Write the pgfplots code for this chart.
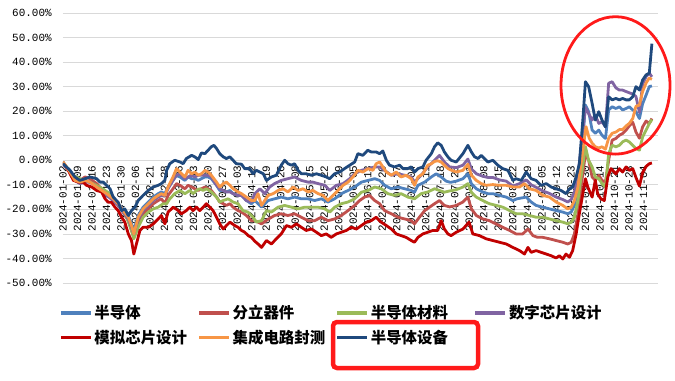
\documentclass[border=0pt]{standalone}
\usepackage{fontspec}
\usepackage{pgfplots}
\pgfplotsset{compat=1.18}
\setmainfont{Liberation Sans}
\newfontfamily\tickfont{Liberation Mono}
\newfontfamily\cjk{Noto Sans CJK SC}
\definecolor{cA}{HTML}{4F81BD}
\definecolor{cB}{HTML}{C0504D}
\definecolor{cC}{HTML}{9BBB59}
\definecolor{cD}{HTML}{8064A2}
\definecolor{cE}{HTML}{C00000}
\definecolor{cF}{HTML}{F79646}
\definecolor{cG}{HTML}{1F497D}
\definecolor{gridc}{HTML}{D9D9D9}
\definecolor{annot}{HTML}{FF1A1A}
\begin{document}
\begin{tikzpicture}
\path[use as bounding box] (-63bp,-98bp) rectangle (612bp,283bp);
\begin{axis}[
  at={(0bp,0bp)}, anchor=south west,
  width=595bp, height=270bp, scale only axis,
  xmin=0, xmax=205, ymin=-50, ymax=60,
  axis x line=middle, axis y line=left,
  axis line style={-},
  x axis line style={draw=gridc, line width=0.75bp},
  y axis line style={draw=none},
  hide obscured x ticks=false, hide obscured y ticks=false,
  tick style={draw=none},
  ytick={-50,-40,-30,-20,-10,0,10,20,30,40,50,60},
  yticklabels={-50.00\%,-40.00\%,-30.00\%,-20.00\%,-10.00\%,0.00\%,10.00\%,20.00\%,30.00\%,40.00\%,50.00\%,60.00\%},
  ymajorgrids, grid style={draw=gridc, line width=0.75bp},
  xtick={0,5,...,200},
  xticklabels={2024-01-02,2024-01-09,2024-01-16,2024-01-23,2024-01-30,2024-02-06,2024-02-21,2024-02-28,2024-03-06,2024-03-13,2024-03-20,2024-03-27,2024-04-03,2024-04-12,2024-04-19,2024-04-26,2024-05-08,2024-05-15,2024-05-22,2024-05-29,2024-06-05,2024-06-13,2024-06-20,2024-06-27,2024-07-04,2024-07-11,2024-07-18,2024-07-25,2024-08-01,2024-08-08,2024-08-15,2024-08-22,2024-08-29,2024-09-05,2024-09-12,2024-09-23,2024-09-30,2024-10-14,2024-10-21,2024-10-28,2024-11-04},
  xticklabel style={font=\tickfont\fontsize{11}{12}\selectfont, rotate=90, anchor=east, inner xsep=3bp, inner ysep=0pt},
  yticklabel style={font=\tickfont\fontsize{11}{13}\selectfont, anchor=east, inner sep=0pt, xshift=-9bp},
  legend columns=4,
  legend style={draw=none, fill=none, inner sep=0pt, at={(axis description cs:-0.0066,-0.075)}, anchor=north west, font=\cjk\bfseries\fontsize{15.5}{18}\selectfont, row sep=6bp, /tikz/every even column/.append style={column sep=0pt}},
  legend image code/.code={\draw[#1, line width=3.2bp] (0bp,0bp) -- (30bp,0bp);},
  every axis plot/.append style={line width=2.8bp, line join=round, mark=none},
]
\addplot[cA] coordinates {(0,-1.4)(2.4,-4.1)(4.1,-7.5)(5.8,-8.9)(7.6,-8.2)(9.3,-8.9)(11.6,-10.2)(13.3,-12.3)(15,-13.6)(17.3,-15)(19,-17.7)(20.7,-19.8)(22.5,-22.5)(23.6,-25.9)(24.4,-28.6)(25.9,-22.5)(27.6,-19.1)(29.4,-17)(31.1,-15)(32.8,-13.6)(33.9,-12.9)(35.1,-13.6)(36.2,-10.9)(37.9,-8.2)(39.1,-6.1)(40.3,-6.8)(42,-8.2)(43.1,-6.8)(44.3,-7.5)(45.4,-7.5)(46.6,-8.2)(47.7,-7.5)(48.9,-6.8)(50,-6.8)(51.1,-7.5)(52.9,-10.2)(54,-12.3)(55.2,-12.3)(56.3,-12.9)(57.5,-12.3)(58.6,-13.6)(60.3,-14.3)(61.5,-14.3)(63.2,-16.4)(64.9,-17.7)(66.1,-16.4)(68.4,-19.1)(70.7,-16.4)(72.9,-15.7)(75.2,-15)(77.5,-15.7)(79.8,-15)(82.1,-15.7)(84.4,-15.7)(86.7,-16.4)(89,-15.7)(91.3,-17)(93.6,-15.7)(95.9,-13.6)(98.2,-12.3)(100.5,-10.9)(102.8,-8.9)(105.1,-8.2)(107.4,-7.5)(109.1,-8.2)(110.8,-10.2)(113.1,-11.6)(115.4,-10.9)(117.7,-11.6)(120,-12.3)(121.1,-13)(122.3,-10.2)(124.6,-8.9)(126.9,-6.8)(128.6,-5.5)(130.3,-6.8)(132,-8.5)(133.5,-9)(135.5,-8.5)(137.8,-7.5)(139.5,-5.5)(140.7,-9.5)(142.4,-11.6)(144.6,-12.9)(146.4,-13.6)(148.1,-13.6)(150.4,-14.3)(152.7,-15)(155,-16.4)(156.4,-15.7)(159.6,-15)(161.3,-17)(163,-18.4)(165.3,-19.1)(167.6,-19.8)(169.9,-20.5)(172.2,-21.1)(173.9,-21.8)(175.1,-21.1)(176.2,-18.4)(177.4,-10.9)(178.5,-0.2)(180,22.5)(181.1,19.8)(182.3,12.3)(183.4,11)(184.6,12.3)(185.7,10.2)(186.9,8.9)(188,20.5)(189.2,21.8)(190.5,21.1)(191.7,21.8)(192.8,20.5)(194,21.1)(195.1,21.8)(196.3,20.5)(197.4,19.8)(198.6,17)(199.7,23)(200.9,26.6)(202,30)(202.9,30.3)};
\addlegendentry{\makebox[101bp][l]{半导体}}
\addplot[cB] coordinates {(0,-1.4)(2.4,-4.8)(4.1,-7.5)(5.8,-8.2)(7.6,-6.8)(9.3,-7.5)(11.6,-9.5)(13.3,-11.6)(15,-13.6)(17.3,-15.7)(19,-17.7)(20.7,-21.1)(22.5,-24.6)(23.6,-28.6)(24.4,-31.4)(25.9,-25.9)(27.6,-21.8)(29.4,-19.8)(31.1,-17.7)(32.8,-16.4)(33.9,-15.7)(35.1,-17.7)(36.2,-14.3)(37.9,-11.6)(39.1,-9.5)(40.3,-10.2)(42,-11.6)(43.1,-10.2)(44.3,-10.9)(45.4,-11.6)(46.6,-12.3)(47.7,-11.6)(48.9,-10.9)(50,-11.6)(51.1,-12.3)(52.9,-15)(54,-17)(55.2,-17.7)(56.3,-18.4)(57.5,-17.7)(58.6,-19.1)(60.3,-20.5)(61.5,-21.1)(63.2,-22.5)(64.9,-24.6)(66.1,-24.6)(68.4,-25.9)(70.7,-24)(72.9,-22.5)(75.2,-21.8)(77.5,-22.5)(79.8,-21.8)(82.1,-23.2)(84.4,-24.6)(86.7,-24.6)(89,-23.2)(91.3,-24.6)(93.6,-23.9)(95.9,-22.5)(98.2,-20.5)(100.5,-18.4)(102.2,-16.4)(103.9,-15)(105.6,-14.3)(107.4,-16.4)(109.1,-17.7)(110.8,-20.5)(113.1,-21.8)(115.4,-23.2)(117.7,-23.9)(120,-24.6)(121.1,-25.9)(122.8,-23.2)(124.6,-20.5)(126.3,-19.1)(128,-17.7)(129.7,-16.4)(131.4,-18.4)(133.2,-19)(135.5,-18.4)(137.8,-17)(139.5,-15)(140.7,-19.8)(142.4,-22.5)(144.6,-23.9)(146.9,-24.6)(149.3,-26)(151.5,-27.3)(153.9,-28.6)(156.1,-30)(158.4,-30)(160.2,-28)(161.9,-30.7)(163.5,-31.4)(165.3,-31.4)(167.6,-32)(169.9,-32.7)(172.2,-33.4)(173.9,-34.1)(175.1,-33.4)(176.2,-30)(177.4,-21.8)(178.5,-10.9)(180,2.7)(181.1,0)(182.3,-6.8)(183.4,-8.2)(184.6,-6.1)(185.7,-8.2)(186.9,-8.9)(188,0)(189.2,8.2)(190.5,8.9)(191.7,10.2)(192.8,10.9)(194,12.3)(195.1,14)(196.3,15.5)(197.4,11.5)(198.6,9)(199.7,13.6)(200.9,16)(202,15)(202.9,17)};
\addlegendentry{\makebox[101bp][l]{分立器件}}
\addplot[cC] coordinates {(0,-0.7)(3.4,-6.1)(5.8,-7.5)(9.3,-8.9)(12.7,-10.9)(16.2,-13.6)(19,-17.7)(21.9,-23.2)(23.6,-28.6)(24.4,-32)(25.9,-27.3)(27.6,-23.2)(29.4,-21.1)(31.1,-19.8)(32.8,-19.1)(34.5,-17.7)(35.7,-17.7)(36.8,-15.7)(38.5,-13.6)(40.3,-12.3)(42,-13.6)(43.7,-12.3)(44.8,-13.6)(46,-12.3)(47.1,-11.6)(48.3,-12.3)(49.4,-11.6)(51.1,-12.9)(52.9,-15)(54,-17)(55.2,-16.4)(56.9,-15.7)(58.6,-17)(60.3,-17.7)(62,-20.5)(63.7,-21.1)(65.5,-23.2)(66.6,-25.2)(68.4,-24.6)(70.1,-20.5)(71.8,-21.1)(74.1,-19.1)(76.4,-18.4)(78.7,-19.1)(81,-19.8)(83.3,-19.1)(85.6,-19.1)(87.9,-19.1)(90.2,-19.8)(91.9,-21.1)(93.6,-19.1)(95.9,-17.7)(98.2,-17)(100.5,-15.7)(102.8,-13)(105.1,-12.3)(107.4,-10.9)(109.7,-11.6)(111.9,-13.6)(114.2,-14.3)(116.5,-13.6)(118.8,-15)(121.1,-15.7)(123.4,-13.6)(125.7,-12.9)(128,-11.6)(129.7,-12.3)(131.4,-13)(133.2,-12.5)(135.5,-12)(137.8,-10.9)(139.5,-9.5)(140.7,-13)(142.4,-15)(144.6,-16.4)(146.9,-17.7)(149.3,-18.4)(151.5,-19.1)(153.9,-20.5)(156.1,-21.8)(158.4,-21.8)(160.7,-22.5)(163,-23.2)(165.3,-23.2)(167.6,-23.9)(169.9,-24.6)(172.2,-25.2)(173.9,-25.9)(175.1,-25.2)(176.2,-23.2)(177.4,-16.4)(178.5,-6.8)(180,5.5)(181.1,0)(182.3,-2.7)(183.4,-6.8)(184.6,-7.5)(185.7,-9.5)(186.9,-10.9)(188,2.7)(189.2,6.1)(190.5,5.5)(191.7,6.1)(192.8,7.5)(194,8.2)(195.1,7.5)(196.3,6.1)(197.4,4.8)(198.6,4.1)(199.7,9.5)(200.9,12.3)(202,15)(202.9,16.6)};
\addlegendentry{\makebox[101bp][l]{半导体材料}}
\addplot[cD] coordinates {(0,-1.4)(2.4,-4.8)(4.1,-8.2)(5.8,-9.5)(7.6,-8.9)(9.3,-8.9)(11.6,-10.9)(13.3,-12.3)(15,-14.3)(17.3,-16.4)(19,-18.4)(20.7,-21.1)(22.5,-23.9)(23.6,-27.3)(24.4,-30)(25.9,-23.9)(27.6,-20.5)(29.4,-18.4)(31.1,-16.4)(32.8,-15)(33.9,-14.3)(35.1,-14.3)(36.2,-11.6)(37.9,-8.2)(39.1,-6.1)(40.3,-5.5)(42,-7.5)(43.1,-6.8)(44.3,-6.1)(45.4,-6.8)(46.6,-6.1)(47.7,-6.1)(48.9,-6.1)(50,-6.1)(51.1,-6.8)(52.9,-10.2)(54,-11.6)(55.2,-12.3)(56.3,-12.9)(57.5,-12.9)(58.6,-13.6)(60.3,-14.3)(61.5,-14.3)(63.2,-16.4)(64.9,-17)(66.1,-13.6)(67.8,-11.6)(69.5,-13.6)(71.2,-10.9)(72.9,-9.5)(75.2,-8.2)(77.5,-7.5)(79.8,-6.8)(82.1,-8.2)(84.4,-8.9)(86.1,-8.9)(87.9,-9.5)(90.2,-10.2)(91.9,-12.3)(94.2,-10.2)(96.5,-9.5)(98.8,-7.5)(100.5,-5.5)(102.8,-4.1)(105.1,-3.4)(107.4,-2.7)(109.1,-2.7)(110.8,-4.1)(113.1,-6.1)(115.4,-5.5)(117.7,-6.1)(120,-6.8)(121.1,-8.9)(123.4,-6.1)(125.7,-2.7)(128,0)(129.7,2)(131.4,-0.7)(133.2,-2.7)(135.5,-3)(137.8,-2)(139.5,0.5)(140.7,-3.5)(142.4,-5.5)(144.6,-6.5)(146.4,-7)(148.1,-7)(150.4,-8)(152.7,-8.5)(155,-10.5)(157.3,-9.5)(159.6,-8)(161.3,-10)(163,-11)(165.3,-12.5)(167.6,-13.5)(169.9,-15)(172.2,-16)(173.9,-17)(175.1,-16)(176.2,-13)(177.4,-6)(178.5,5)(180,21.5)(181.1,19)(182.3,16.4)(183.4,18.4)(184.6,15)(185.7,15.7)(186.9,13.6)(188,31.4)(189.2,32)(190.5,29.5)(191.7,28.6)(192.8,28.6)(194,28)(195.1,27.5)(196.3,27)(197.4,26)(198.6,19.5)(199.7,31)(200.9,34.1)(202,35.5)(202.9,34)};
\addlegendentry{\makebox[101bp][l]{数字芯片设计}}
\addplot[cE] coordinates {(0,-0.7)(1.8,-4.1)(3.6,-8.2)(5.3,-8.9)(7,-8.9)(8.1,-10.2)(9.9,-10.9)(11.6,-12.3)(13.3,-12.9)(14.5,-15.7)(15.6,-17.1)(16.7,-17.1)(17.9,-19.1)(19,-20.5)(20.2,-23.2)(21.3,-25.2)(22.5,-30)(23.6,-32.7)(24.4,-38.2)(25.3,-34.1)(26.5,-28.6)(27.6,-27.3)(29.4,-27.3)(31.1,-25.9)(32.8,-23.9)(33.9,-22.5)(35.1,-25.9)(36.2,-21.1)(38,-19.1)(39.7,-20.5)(40.8,-21.8)(42.5,-20.5)(43.7,-19.1)(44.8,-20.5)(46,-19.1)(47.1,-20.5)(48.3,-19.1)(49.4,-17.7)(50.6,-19.1)(51.7,-20.5)(52.9,-23.2)(54,-25.9)(55.2,-28)(56.3,-26.6)(57.5,-25.2)(59.2,-26.6)(60.3,-27.3)(61.5,-28.6)(62.6,-29.3)(63.8,-30.7)(64.9,-31.4)(66.1,-33)(67.2,-34.1)(68.4,-35.5)(70.1,-32.7)(71.8,-34.1)(73.5,-32)(75.2,-30)(77,-26.6)(78.7,-27.3)(80.4,-25.9)(82.1,-27.3)(83.8,-28.6)(85.6,-28)(87.3,-29.3)(89,-30.7)(90.7,-30)(92.4,-31.4)(94.2,-30)(95.9,-29.3)(97.6,-28.6)(99.3,-27.3)(101.1,-28)(102.8,-26.6)(104.5,-25.2)(106.2,-24.6)(107.9,-23.2)(109.6,-25.2)(111.4,-26.6)(113.1,-28)(114.8,-30)(116.5,-30.7)(118.2,-31.4)(120,-32.7)(121.1,-33.4)(122.3,-31.4)(124,-30)(125.7,-29.3)(127.4,-28.6)(129.1,-28.6)(130.3,-24.6)(131.4,-28)(132.6,-30)(133.7,-30.7)(135.5,-29.3)(137.8,-28)(139.9,-25.2)(141.2,-30)(143.5,-30.7)(145.8,-32)(148.1,-32.7)(150.4,-33.4)(152.7,-34.1)(155,-35.5)(157.3,-36.8)(159,-38.2)(160.2,-35.5)(161.3,-37.5)(163,-36.8)(164.7,-37.5)(166.5,-38.2)(168.2,-38.9)(169.9,-39.8)(171,-38.9)(172.2,-40.2)(173.3,-38.2)(174.5,-39.5)(175.6,-36.8)(176.8,-30)(177.9,-21.8)(179.1,-13.6)(180,-7.5)(180.8,-10.9)(182.3,-15)(183.4,-8.2)(184.2,-13.6)(185.3,-15.7)(186.5,-16.4)(187.7,-6.8)(188.8,-3.4)(190.5,-5.5)(191.7,-3.4)(192.8,-4.8)(194,-2.7)(195.1,-4.1)(196.3,-3.4)(197.4,-7)(198.6,-10.5)(199.7,-5)(200.9,-2.5)(202,-1.4)(202.9,-1.1)};
\addlegendentry{\makebox[101bp][l]{模拟芯片设计}}
\addplot[cF] coordinates {(0,-0.7)(2.4,-4.8)(4.1,-8.2)(5.8,-8.9)(7.6,-8.2)(9.3,-8.9)(11.6,-10.9)(13.3,-12.3)(15,-13.6)(17.3,-15.7)(19,-17.7)(20.7,-20.5)(22.5,-23.2)(23.6,-26.6)(24.4,-30)(25.9,-23.2)(27.6,-19.8)(29.4,-17.7)(31.1,-15.7)(32.8,-14.3)(33.9,-13.6)(35.1,-14.3)(36.2,-10.9)(37.9,-6.8)(39.1,-3.4)(40.3,-4.8)(42,-6.8)(43.1,-4.1)(44.3,-5.5)(45.4,-4.8)(46.6,-6.1)(47.7,-5.5)(48.9,-4.1)(50,-4.8)(51.1,-6.1)(52.9,-8.9)(54,-10.9)(55.2,-9.5)(56.3,-8.9)(57.5,-10.2)(58.6,-11.6)(60.3,-12.9)(61.5,-13.6)(63.2,-15)(64.9,-16.4)(66.1,-16.4)(67.2,-13.6)(68.4,-18.4)(69.5,-16.4)(70.7,-14.3)(72.4,-13.6)(74.1,-12.3)(75.8,-11.6)(77.5,-12.9)(79.3,-10.9)(81,-12.3)(82.7,-11.6)(84.4,-12.9)(86.1,-12.3)(87.9,-13.6)(89.6,-14.3)(91.3,-16.4)(93,-14.3)(94.7,-12.3)(96.5,-10.2)(98.2,-8.9)(99.9,-6.8)(101.6,-4.1)(103.3,-4.8)(105.1,-3.4)(106.8,-4.1)(107.9,-1.4)(109.1,-0.7)(110.2,-2.7)(111.4,-4.8)(113.1,-6.1)(114.8,-4.8)(116.5,-6.8)(118.2,-6.1)(120,-7.5)(121.1,-10.2)(122.3,-6.8)(124,-5.5)(125.7,-2)(126.9,-1.4)(128,-0.5)(129.1,-0.2)(130.3,-0.7)(131.4,-2)(132.6,-3.4)(133.7,-4)(135.5,-4.8)(137.8,-4.1)(139.5,-1.6)(140.7,-6.1)(142.4,-8.2)(144.1,-9.5)(145.8,-10.2)(148.1,-9.9)(150.4,-10.2)(152.7,-10.2)(155,-10.9)(157.3,-10.9)(159,-9.5)(160.7,-11.6)(163,-12.3)(165.3,-14.3)(167.6,-15)(169.9,-17)(172.2,-18.4)(173.9,-19.8)(175.1,-19.1)(176.2,-16.4)(177.4,-10.9)(178.5,-1.4)(180.2,13.7)(181.3,9)(182.3,7)(183.4,5.5)(184.6,5)(185.7,5.5)(186.9,4.5)(188,9)(189.2,11)(190.5,11.5)(191.7,12.5)(192.8,12.5)(194,14)(195.1,15)(196.3,17)(197.4,22)(198.6,22.5)(199.7,28)(200.9,31.5)(202,33.5)(202.9,33)};
\addlegendentry{\makebox[101bp][l]{集成电路封测}}
\addplot[cG] coordinates {(0,-1.4)(2.4,-4.1)(4.1,-6.8)(5.8,-8.2)(7.6,-7.5)(9.3,-6.8)(11.6,-7.5)(12.7,-8.9)(13.9,-8.9)(15,-10.2)(16.2,-11.6)(17.3,-15)(19,-17.1)(20.2,-20.5)(21.3,-19.8)(22.5,-22.5)(23.6,-20.5)(24.8,-19.1)(25.9,-16.4)(27.6,-14.3)(29.4,-12.3)(31.1,-10.9)(32.8,-10.2)(33.9,-9.5)(35.1,-8.2)(35.7,-4.1)(36.8,-1.4)(38.5,0)(40.3,-0.7)(41.4,-1.4)(42.5,0.7)(44.3,2)(45.4,1.4)(46.6,0.3)(47.7,3)(48.9,2.7)(50,4.1)(51.1,5.5)(52,6.1)(52.9,4.8)(54,2.7)(55.2,1.4)(56.3,0.7)(57.5,1.4)(58.6,0)(59.7,-1.4)(61.5,-1.6)(62.6,-3.4)(64.3,-3.4)(65.5,-5.5)(66.6,-4.1)(67.8,-4.8)(69,-5.5)(70.1,-8.2)(71.8,-6.8)(73.5,-6.1)(75.2,-2)(76.4,0)(77.5,-1.4)(78.7,-2)(79.8,-1.4)(81,-4.1)(82.1,-5.5)(83.8,-5.5)(85.6,-6.1)(87.3,-5.5)(89,-6.1)(90.7,-6.8)(91.9,-7.5)(93.6,-5.5)(95.3,-4.8)(97,-3.4)(98.8,-2)(100.5,-0.7)(101.6,2.7)(103.3,2)(105,4.1)(106.2,3.4)(107.9,3.4)(109.1,2.7)(110.2,3.8)(111.4,0)(112.5,-2)(114.2,-2.7)(116,-2)(117.1,-3.4)(118.8,-3.4)(120,-2.7)(121.1,-4.8)(122.3,-3.4)(124,-2.7)(125.1,0)(126.9,2.7)(128,5.5)(129.1,7.1)(130.3,6.1)(131.4,3.4)(132.6,1.4)(133.7,0)(135.5,-0.7)(137.8,2.7)(139.5,6.1)(140.7,3.4)(141.8,1.4)(143,0.7)(144.1,2)(145.2,0.7)(146.4,-0.7)(148.1,0)(149.8,-2)(151.5,-3.4)(153.3,-4.1)(155,-8.2)(156.1,-7.5)(157.9,-8.2)(159.6,-4.8)(161.3,-7.5)(163,-8.2)(164.7,-10.2)(166.5,-9.5)(168.2,-10.9)(169.9,-11.6)(171.6,-12.3)(173.3,-13.6)(174.5,-11.6)(175.6,-10.9)(176.8,-6.8)(177.9,-1.4)(179.1,16.4)(180,32)(181.1,30)(182.3,23.2)(183.4,16.4)(184.6,19.8)(185.7,16.4)(186.9,13.6)(188,25.9)(189.2,24.6)(190.5,25.2)(191.7,24.6)(192.8,25.2)(194,24.6)(195.1,24.6)(196.3,25.9)(197.4,30)(198.6,28.6)(199.7,32.7)(200.9,34.8)(202,35.5)(202.9,47.5)};
\addlegendentry{\makebox[101bp][l]{半导体设备}}
\end{axis}
\draw[annot, line width=2.8bp] (552.5bp,197.6bp) ellipse [x radius=54.5bp, y radius=68.7bp];
\draw[annot, line width=4.5bp, rounded corners=4bp] (270bp,-39bp) rectangle (415bp,-85bp);
\end{tikzpicture}
\end{document}
